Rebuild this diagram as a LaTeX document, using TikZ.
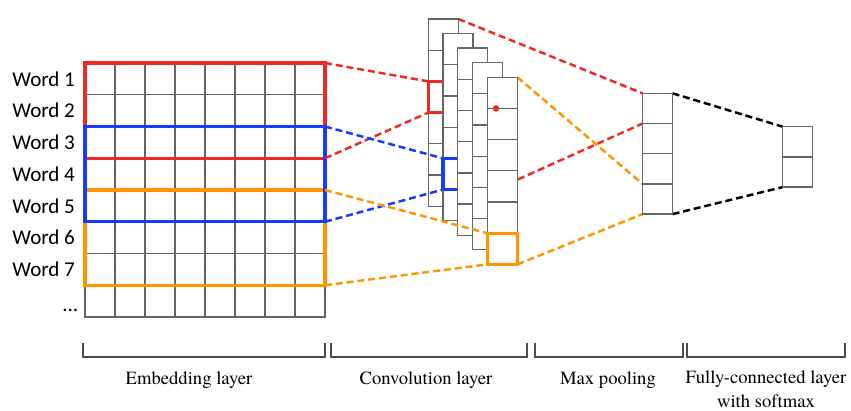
\documentclass[tikz,border=0pt]{standalone}
\usepackage{fontspec}
\newfontfamily\calfont{Carlito}
\newfontfamily\timesfont{texgyretermes-regular.otf}
\usetikzlibrary{fit,backgrounds}
\definecolor{selred}{RGB}{240,40,35}
\definecolor{selblue}{RGB}{20,60,250}
\definecolor{selorange}{RGB}{255,150,0}
\begin{document}
\begin{tikzpicture}[
  x=0.02cm, y=-0.02cm,
  cell/.style={draw=black!60,fill=white,line width=0.7pt,inner sep=0pt,outer sep=0pt,minimum width=0.6cm,minimum height=#1},
  cell/.default=0.6cm,
  win/.style={draw=#1,line width=1.8pt,inner sep=0pt,outer sep=0pt},
  link/.style={draw=#1,line width=1.4pt,dash pattern=on 4pt off 2.2pt},
  word/.style={font=\calfont\fontsize{12}{14}\selectfont,anchor=west,inner sep=0pt},
  laycap/.style={font=\timesfont\fontsize{10.6}{13.6}\selectfont,align=center,inner sep=0pt},
  brk/.style={draw=black!70,line width=0.8pt},
]
  \useasboundingbox (0,0) rectangle (851,410);

  % embedding matrix
  \foreach \r in {1,...,8}
    \foreach \c in {1,...,8}
      \node[cell=0.635cm] (e-\r-\c) at (70+30*\c, 47.125+31.75*\r) {};
  \node[win=selred,fit=(e-1-1)(e-3-8)]    (redwin)    {};
  \node[win=selorange,fit=(e-5-1)(e-7-8)] (orangewin) {};
  \node[win=selblue,fit=(e-3-1)(e-5-8)]   (bluewin)   {};

  \foreach \r in {1,...,7}
    \node[word] (w\r) at (12, 47.125+31.75*\r) {Word \r};
  \node[word] (wdots) at (62,310) {...};

  % convolution feature maps, back to front
  \foreach \k in {0,...,4} {
    \foreach \r in {1,...,6}
      \node[cell=0.624cm] (c-\k-\r) at (443.3+14.75*\k, 3.4+14.55*\k+31.2*\r) {};
    \ifcase\k
      \node[win=selred,fit=(c-0-3)] (redcell) {};
    \or
      \node[win=selblue,fit=(c-1-5)] (bluecell) {};
    \fi
  }
  \node[win=selorange,fit=(c-4-6)] (orangecell) {};
  \node[circle,fill=selred,inner sep=0pt,minimum size=0.13cm] (rdot) at (496,108.4) {};

  % max pooling and fully-connected
  \foreach \r in {1,...,4}
    \node[cell=0.604cm] (p-\r) at (657.5, 78.2+30.2*\r) {};
  \foreach \r in {1,2}
    \node[cell=0.604cm] (f-\r) at (797.7, 111.6+30.2*\r) {};

  \draw[link=selred]    (redwin.north east)    -- (redcell.north west);
  \draw[link=selred]    (redwin.south east)    -- (redcell.south west);
  \draw[link=selblue]   (bluewin.north east)   -- (bluecell.north west);
  \draw[link=selblue]   (bluewin.south east)   -- (bluecell.south west);
  \draw[link=selorange] (orangewin.north east) -- (orangecell.north west);
  \draw[link=selorange] (orangewin.south east) -- (orangecell.south west);

  \begin{pgfonlayer}{background}
    \draw[link=selred]    (c-0-1.north east)       -- (p-1.north west);
    \draw[link=selred]    (c-0-6.south east)       -- (p-2.north west);
    \draw[link=selorange] (c-4-1.north east)       -- (p-4.north west);
    \draw[link=selorange] (orangecell.south east)  -- (p-4.south west);
    \draw[link=black]     (p-1.north east)         -- (f-1.north west);
    \draw[link=black]     (p-4.south east)         -- (f-2.south west);
  \end{pgfonlayer}

  % layer brackets
  \foreach \a/\b [count=\i] in {83/325, 331/527, 535/683, 687/845}
    \draw[brk] (\a,343) coordinate (bl\i) -- (\a,357) -| (\b,343) coordinate (br\i);

  \node[laycap] (embcap)  at (189,380) {Embedding layer};
  \node[laycap] (convcap) at (426,380) {Convolution layer};
  \node[laycap] (poolcap) at (608,380) {Max pooling};
  \node[laycap] (fccap)   at (766,389) {Fully-connected layer\\with softmax};
\end{tikzpicture}
\end{document}
